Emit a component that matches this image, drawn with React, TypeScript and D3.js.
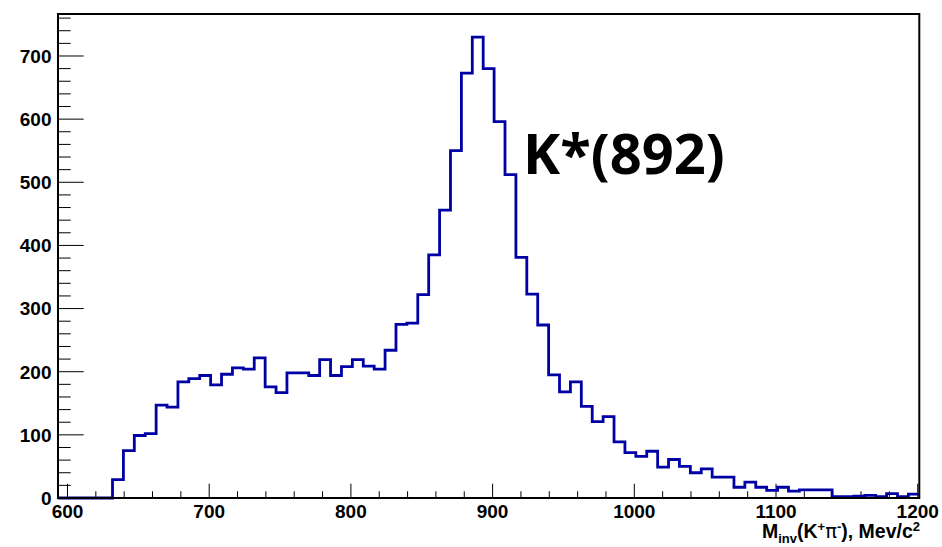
import React from 'react';
import * as d3 from 'd3';

// Histogram: 79 bins starting at binStart, width binWidth (MeV/c^2)
const binStart = 593.3;
const binWidth = 7.694;
const counts = [
  0, 0, 0, 0, 0, 29, 75, 99, 102, 147, 144, 184, 189, 194, 179, 196, 206, 204, 222, 176,
  167, 198, 198, 194, 219, 194, 208, 219, 209, 204, 234, 275, 277, 322, 385, 456, 550, 673, 730, 680,
  596, 512, 381, 323, 274, 195, 168, 184, 145, 121, 129, 89, 72, 66, 74, 49, 61, 50, 40, 46,
  33, 33, 17, 25, 17, 12, 17, 11, 13, 13, 13, 2, 2, 3, 4, 2, 7, 2, 6,
];
const xTicks = [600, 700, 800, 900, 1000, 1100, 1200];
const yTicks = [0, 100, 200, 300, 400, 500, 600, 700];
const yMax = 766.5;
const annotation = 'K*(892)';

const W = 942;
const H = 547;
const L = 58, R = 919.3, T = 14, B = 498;

export default function App() {
  const xEnd = binStart + counts.length * binWidth;
  const x = d3.scaleLinear().domain([binStart, xEnd]).range([L, R]);
  const y = d3.scaleLinear().domain([0, yMax]).range([B, T]);

  let d = `M${x(binStart)},${y(counts[0])}`;
  counts.forEach((c, i) => {
    const x1 = x(binStart + (i + 1) * binWidth);
    d += `V${y(c)}H${x1}`;
  });

  const xMinor = d3.range(600, 1201, 20).filter((v) => v % 100 !== 0);
  const yMinor = d3.range(0, yMax, 20).filter((v) => v % 100 !== 0);

  const font = 'Liberation Sans, Arial, Helvetica, sans-serif';

  return (
    <svg
      width={W}
      height={H}
      style={{ position: 'absolute', left: 0, top: 0, display: 'block', background: '#fff' }}
    >
      <rect x={0} y={0} width={W} height={H} fill="#fff" />
      {/* ticks */}
      <g stroke="#000" strokeWidth={1}>
        {yTicks.map((v) => (
          <line key={'ym' + v} x1={L} x2={L + 25.7} y1={y(v)} y2={y(v)} />
        ))}
        {yMinor.map((v) => (
          <line key={'yn' + v} x1={L} x2={L + 12.7} y1={y(v)} y2={y(v)} />
        ))}
        {xTicks.map((v) => (
          <line key={'xm' + v} x1={x(v)} x2={x(v)} y1={B} y2={B - 14.3} />
        ))}
        {xMinor.map((v) => (
          <line key={'xn' + v} x1={x(v)} x2={x(v)} y1={B} y2={B - 6.7} />
        ))}
      </g>
      {/* histogram */}
      <path d={d} fill="none" stroke="#0000a4" strokeWidth={2.8} strokeLinejoin="miter" />
      {/* frame */}
      <rect x={L} y={T} width={R - L} height={B - T} fill="none" stroke="#000" strokeWidth={2} />
      {/* y labels */}
      <g fontFamily={font} fontWeight="bold" fontSize={19} fill="#000" textAnchor="end">
        {yTicks.map((v) => (
          <text key={'yl' + v} x={51.5} y={y(v) + 6.8}>
            {v}
          </text>
        ))}
      </g>
      {/* x labels */}
      <g fontFamily={font} fontWeight="bold" fontSize={19} fill="#000" textAnchor="middle">
        {xTicks.map((v) => (
          <text key={'xl' + v} x={x(v)} y={518}>
            {v}
          </text>
        ))}
      </g>
      {/* axis title */}
      <text x={920} y={538} fontFamily={font} fontWeight="bold" fontSize={19.5} textAnchor="end" fill="#000">
        <tspan>M</tspan>
        <tspan fontSize={13} dy={5}>inv</tspan>
        <tspan dy={-5}>(K</tspan>
        <tspan fontSize={13} dy={-7.5}>+</tspan>
        <tspan dy={7.5} fontFamily="DejaVu Sans, sans-serif" fontWeight="normal">π</tspan>
        <tspan fontSize={13} dy={-7.5}>-</tspan>
        <tspan dy={7.5}>), Mev/c</tspan>
        <tspan fontSize={13} dy={-7.5}>2</tspan>
      </text>
      {/* annotation */}
      <text x={523} y={174} fontFamily="Open Sans, Noto Sans, sans-serif" fontWeight="bold" fontSize={56} fill="#000">
        {annotation}
      </text>
    </svg>
  );
}
